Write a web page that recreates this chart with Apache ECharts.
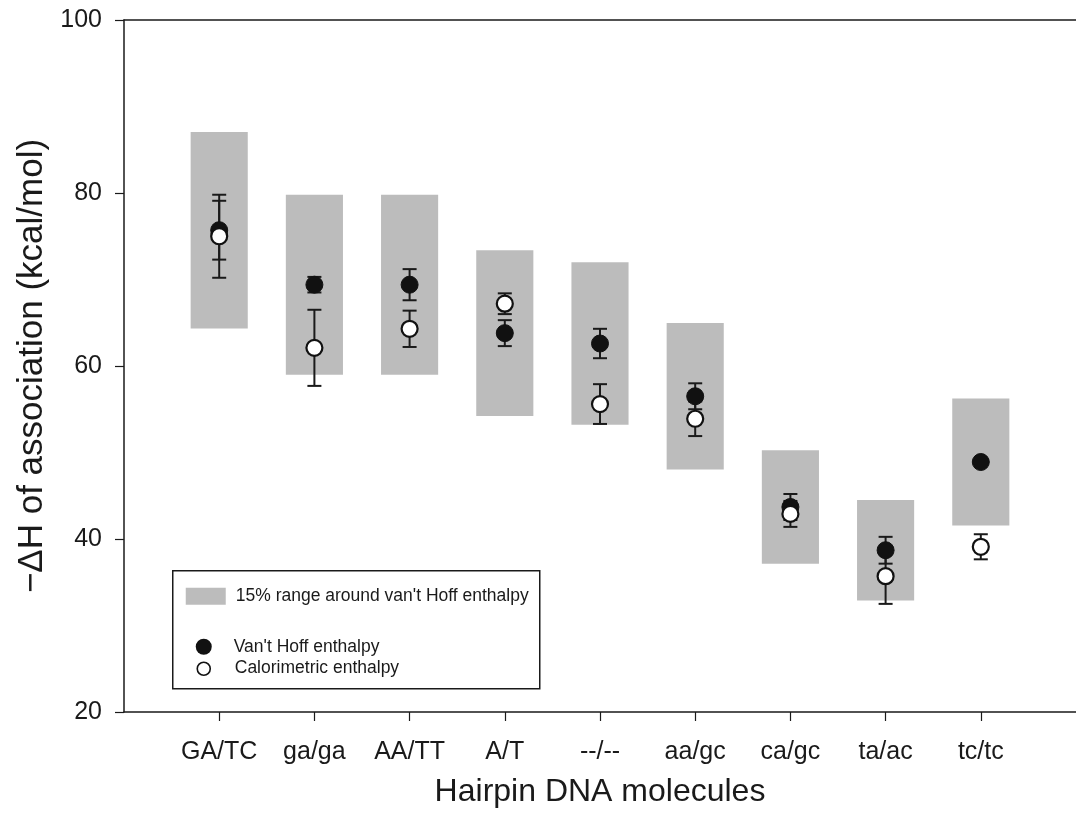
<!DOCTYPE html>
<html>
<head>
<meta charset="utf-8">
<title>Hairpin DNA enthalpies</title>
<script src="https://cdn.jsdelivr.net/npm/echarts@6/dist/echarts.min.js"></script>
<style>
  html, body { margin: 0; padding: 0; background: #ffffff; }
  #chart { width: 1076px; height: 819px; }
</style>
</head>
<body>
<div id="chart"></div>
<script>
// Hairpin molecules along the x axis (positions 1..9)
const categories = ['GA/TC', 'ga/ga', 'AA/TT', 'A/T', '--/--', 'aa/gc', 'ca/gc', 'ta/ac', 'tc/tc'];

// -ΔH of association, kcal/mol
const vantHoff        = [75.7, 69.4, 69.4, 63.8, 62.6, 56.5, 43.7, 38.7, 48.9];
const vantHoffErr     = [3.4, 0.9, 1.8, 1.5, 1.7, 1.5, 1.5, 1.55, 0];
const calorimetric    = [75.0, 62.1, 64.3, 67.2, 55.6, 53.9, 42.9, 35.7, 39.1];
const calorimetricErr = [4.8, 4.4, 2.1, 1.2, 2.3, 2.0, 1.5, 3.2, 1.45];

// shaded band: ±15% around the van't Hoff value
const RANGE_FRACTION = 0.15;

const FONT = '"Liberation Sans", Arial, Helvetica, sans-serif';
const INK = '#1a1a1a';
const BOX_GREY = '#bcbcbc';
const BOX_HALF = 0.3;      // half width of a shaded band, in x units
const CAP_HALF = 7;        // half width of an error-bar cap, px

const xPos = categories.map((_, i) => i + 1);

const bandData = xPos.map((x, i) => [x, vantHoff[i] * (1 - RANGE_FRACTION), vantHoff[i] * (1 + RANGE_FRACTION)]);
const vhErrData = xPos.map((x, i) => [x, vantHoff[i], vantHoffErr[i]]);
const calErrData = xPos.map((x, i) => [x, calorimetric[i], calorimetricErr[i]]);
const vhPoints = xPos.map((x, i) => [x, vantHoff[i]]);
const calPoints = xPos.map((x, i) => [x, calorimetric[i]]);

function renderBand(params, api) {
  const x = api.value(0), lo = api.value(1), hi = api.value(2);
  const p1 = api.coord([x - BOX_HALF, hi]);
  const p2 = api.coord([x + BOX_HALF, lo]);
  return {
    type: 'rect',
    shape: { x: p1[0], y: p1[1], width: p2[0] - p1[0], height: p2[1] - p1[1] },
    style: { fill: BOX_GREY }
  };
}

function renderErr(params, api) {
  const x = api.value(0), v = api.value(1), e = api.value(2);
  if (!e) return null;
  const top = api.coord([x, v + e]);
  const bot = api.coord([x, v - e]);
  const st = { stroke: INK, lineWidth: 2 };
  return {
    type: 'group',
    children: [
      { type: 'line', shape: { x1: top[0], y1: top[1], x2: bot[0], y2: bot[1] }, style: st },
      { type: 'line', shape: { x1: top[0] - CAP_HALF, y1: top[1], x2: top[0] + CAP_HALF, y2: top[1] }, style: st },
      { type: 'line', shape: { x1: bot[0] - CAP_HALF, y1: bot[1], x2: bot[0] + CAP_HALF, y2: bot[1] }, style: st }
    ]
  };
}

const chart = echarts.init(document.getElementById('chart'), null, { renderer: 'canvas' });

const legendLeft = 172, legendTop = 570;

chart.setOption({
  animation: false,
  backgroundColor: '#ffffff',
  textStyle: { fontFamily: FONT },
  grid: { left: 124, top: 20, right: -8, bottom: 107, containLabel: false },
  xAxis: [
    {
      type: 'value',
      min: 0, max: 10, interval: 1,
      splitLine: { show: false },
      axisLine: { show: true, onZero: false, lineStyle: { color: INK, width: 1.5 } },
      axisTick: { show: true, length: 9, customValues: xPos, lineStyle: { color: INK, width: 1.2 } },
      axisLabel: {
        customValues: xPos,
        margin: 28,
        fontSize: 25,
        color: INK,
        fontFamily: FONT,
        formatter: v => categories[Math.round(v) - 1] || ''
      },
      name: 'Hairpin DNA molecules',
      nameLocation: 'middle',
      nameGap: 64,
      nameTextStyle: { fontSize: 32, color: INK, fontFamily: FONT }
    },
    {
      type: 'value', position: 'top',
      min: 0, max: 10,
      splitLine: { show: false },
      axisLine: { show: true, onZero: false, lineStyle: { color: INK, width: 1.5 } },
      axisTick: { show: false },
      axisLabel: { show: false }
    }
  ],
  yAxis: {
    type: 'value',
    min: 20, max: 100, interval: 20,
    splitLine: { show: false },
    axisLine: { show: true, onZero: false, lineStyle: { color: INK, width: 1.5 } },
    axisTick: { show: true, length: 9, lineStyle: { color: INK, width: 1.2 } },
    axisLabel: { margin: 22, fontSize: 25, color: INK, fontFamily: FONT },
    name: '\u2212\u0394H of association (kcal/mol)',
    nameLocation: 'middle',
    nameRotate: 90,
    nameGap: 54,
    nameTextStyle: { fontSize: 35, color: INK, fontFamily: FONT }
  },
  series: [
    {
      name: "15% range around van't Hoff enthalpy",
      type: 'custom',
      renderItem: renderBand,
      data: bandData,
      encode: { x: 0, y: [1, 2] },
      z: 1,
      silent: true
    },
    {
      name: 'vh-err',
      type: 'custom',
      renderItem: renderErr,
      data: vhErrData,
      encode: { x: 0, y: 1 },
      z: 2,
      silent: true
    },
    {
      name: 'cal-err',
      type: 'custom',
      renderItem: renderErr,
      data: calErrData,
      encode: { x: 0, y: 1 },
      z: 2,
      silent: true
    },
    {
      name: "Van't Hoff enthalpy",
      type: 'scatter',
      data: vhPoints,
      symbol: 'circle',
      symbolSize: 17,
      itemStyle: { color: '#111111', borderColor: '#111111', borderWidth: 1, opacity: 1 },
      z: 3
    },
    {
      name: 'Calorimetric enthalpy',
      type: 'scatter',
      data: calPoints,
      symbol: 'circle',
      symbolSize: 16,
      itemStyle: { color: '#ffffff', borderColor: '#111111', borderWidth: 2.2, opacity: 1 },
      z: 4
    }
  ],
  graphic: [
    {
      type: 'group',
      left: legendLeft, top: legendTop,
      z: 10,
      children: [
        { type: 'rect', shape: { x: 0, y: 0, width: 367, height: 118 },
          style: { fill: '#ffffff', stroke: INK, lineWidth: 1.5 } },
        { type: 'rect', shape: { x: 13, y: 17, width: 40, height: 17 }, style: { fill: BOX_GREY } },
        { type: 'text', x: 63, y: 25,
          style: { text: "15% range around van't Hoff enthalpy", font: '17.5px ' + FONT, fill: INK, textVerticalAlign: 'middle' } },
        { type: 'circle', shape: { cx: 31, cy: 76, r: 8 }, style: { fill: '#111111' } },
        { type: 'text', x: 61, y: 76,
          style: { text: "Van't Hoff enthalpy", font: '17.5px ' + FONT, fill: INK, textVerticalAlign: 'middle' } },
        { type: 'circle', shape: { cx: 31, cy: 98, r: 6.5 }, style: { fill: '#ffffff', stroke: '#111111', lineWidth: 1.6 } },
        { type: 'text', x: 62, y: 97,
          style: { text: 'Calorimetric enthalpy', font: '17.5px ' + FONT, fill: INK, textVerticalAlign: 'middle' } }
      ]
    }
  ]
});
</script>
</body>
</html>
